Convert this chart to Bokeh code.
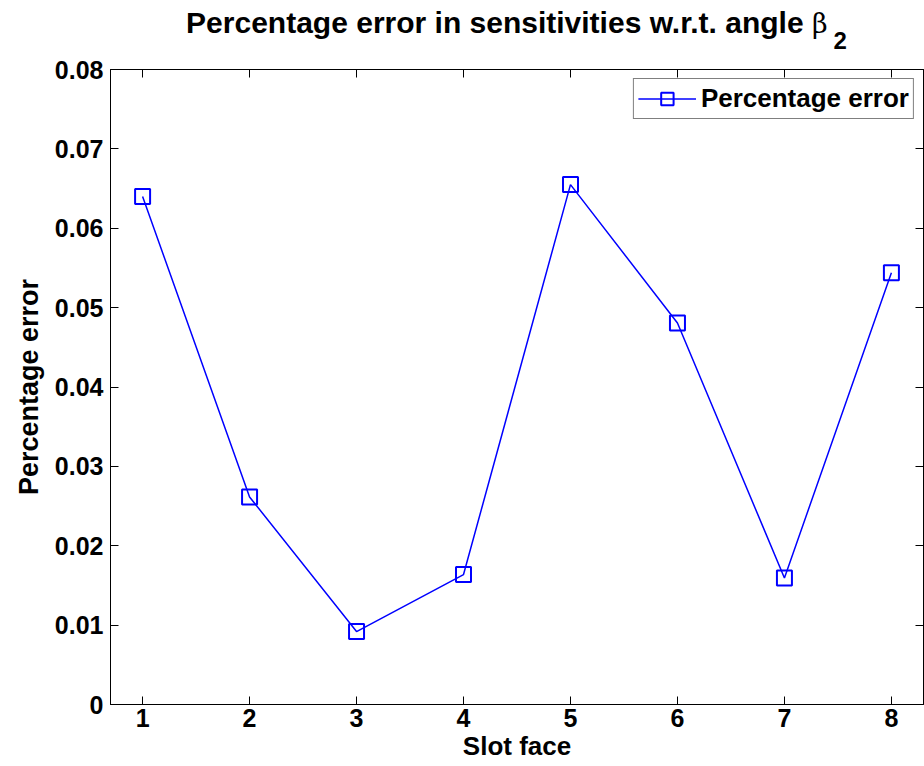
from bokeh.plotting import figure
from bokeh.models import (Range1d, FixedTicker, LinearAxis, Legend, LegendItem, Div)
from bokeh.layouts import column
from bokeh.embed import file_html
from bokeh.resources import INLINE

# ---- data ----
slot_face = [1, 2, 3, 4, 5, 6, 7, 8]
pct_error = [0.0640, 0.02615, 0.00919, 0.01637, 0.0655, 0.04806, 0.01594, 0.0544]
x_ticks = [1, 2, 3, 4, 5, 6, 7, 8]
y_ticks = [0, 0.01, 0.02, 0.03, 0.04, 0.05, 0.06, 0.07, 0.08]
y_tick_labels = ["0", "0.01", "0.02", "0.03", "0.04", "0.05", "0.06", "0.07", "0.08"]
title_main = "Percentage error in sensitivities w.r.t. angle"
title_sym = "β"
title_sub = "2"
x_label = "Slot face"
y_label = "Percentage error"
series_name = "Percentage error"

FONT = "Liberation Sans"
W, H = 924, 766
TITLE_H = 50
L, R, T, B = 110, 1, 69 - TITLE_H, 62

title_html = (
    f"{title_main} "
    f"<span style='font-family:\"DejaVu Serif\";font-weight:normal;font-size:27px'>{title_sym}</span>"
    f"<span style='position:relative;top:16px;font-size:24px;margin-left:6px'>{title_sub}</span>"
)
title_div = Div(text=title_html, width=W, height=TITLE_H, margin=0,
                styles={"font-family": FONT, "font-weight": "bold", "font-size": "30px",
                        "line-height": "34px", "color": "black", "text-align": "center",
                        "padding-left": f"{L}px", "padding-right": f"{R}px",
                        "padding-top": "6px", "box-sizing": "border-box",
                        "white-space": "nowrap", "background": "white"})

p = figure(width=W, height=H - TITLE_H, output_backend="svg", toolbar_location=None,
           x_range=Range1d(0.7, 8.3), y_range=Range1d(0.0, 0.08),
           min_border_left=L, min_border_right=R, min_border_top=T, min_border_bottom=B,
           background_fill_color="white", border_fill_color="white", margin=0)
p.xgrid.visible = False
p.ygrid.visible = False
p.outline_line_color = "black"
p.outline_line_width = 1


def style_axis(ax, ticks, labels=True, overrides=None):
    ax.ticker = FixedTicker(ticks=ticks)
    ax.major_tick_in = 8
    ax.major_tick_out = 0
    ax.minor_tick_in = 0
    ax.minor_tick_out = 0
    ax.axis_line_color = "black"
    ax.major_tick_line_color = "black"
    ax.axis_line_width = 1
    if labels:
        ax.major_label_text_font = FONT
        ax.major_label_text_font_style = "bold"
        ax.major_label_text_font_size = "25px"
        ax.major_label_text_color = "black"
        ax.axis_label_text_font = FONT
        ax.axis_label_text_font_style = "bold"
        ax.axis_label_text_color = "black"
        if overrides:
            ax.major_label_overrides = overrides
    else:
        ax.major_label_text_font_size = "0px"
        ax.major_label_text_color = None
        ax.major_label_standoff = 0


xa = p.xaxis[0]
style_axis(xa, x_ticks)
xa.major_label_standoff = 4
xa.axis_label = x_label
xa.axis_label_text_font_size = "26px"
xa.axis_label_standoff = 1

ya = p.yaxis[0]
style_axis(ya, y_ticks, overrides={t: s for t, s in zip(y_ticks, y_tick_labels)})
ya.major_label_standoff = 7
ya.axis_label = y_label
ya.axis_label_text_font_size = "27px"
ya.axis_label_standoff = 8

top_ax = LinearAxis()
style_axis(top_ax, x_ticks, labels=False)
p.add_layout(top_ax, "above")
right_ax = LinearAxis()
style_axis(right_ax, y_ticks, labels=False)
p.add_layout(right_ax, "right")

ln = p.line(slot_face, pct_error, line_color="#0000ff", line_width=1.5)
sc = p.scatter(slot_face, pct_error, marker="square", size=15, line_color="#0000ff",
               line_width=2, fill_color=None)

legend = Legend(items=[LegendItem(label=series_name, renderers=[ln, sc])],
                location="top_right", margin=9, padding=4, glyph_width=58, glyph_height=31,
                label_standoff=5, label_text_font=FONT, label_text_font_style="bold",
                label_text_font_size="26px", label_text_color="black",
                border_line_color="black", border_line_width=1,
                background_fill_alpha=1.0)
p.add_layout(legend, "center")

layout = column(title_div, p, spacing=0, margin=0)
open("out.html", "w").write(file_html(layout, INLINE))
